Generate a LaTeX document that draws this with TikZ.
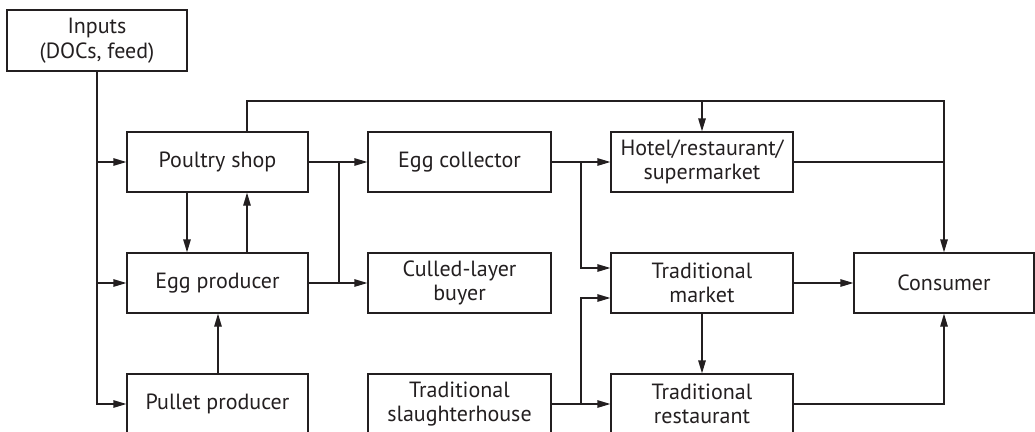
\documentclass[tikz,border=0pt]{standalone}
\usepackage{fontspec}
\setmainfont{PT Sans}
\usetikzlibrary{arrows.meta}
\definecolor{ln}{HTML}{231F20}
\tikzset{
  box/.style={draw=ln, line width=1.3pt, rectangle, minimum width=181pt, minimum height=60pt, align=center, inner sep=0pt, text=ln, font=\fontsize{22}{24.5}\selectfont},
  conn/.style={draw=ln, line width=1.3pt},
  arr/.style={conn, -{Triangle[length=13pt,width=7.5pt]}}
}
\begin{document}
\begin{tikzpicture}[x=1pt,y=-1pt]
\useasboundingbox (0,0) rectangle (1035,431);
\node[box, minimum width=180pt, minimum height=61pt] (in) at (97,40.5) {Inputs\\(DOCs, feed)};
\node[box] (ps) at (217.5,162) {Poultry shop};
\node[box] (ep) at (217.5,283) {Egg producer};
\node[box] (pp) at (217.5,404) {Pullet producer};
\node[box, minimum width=183pt] (ec) at (459.5,162) {Egg collector};
\node[box, minimum width=183pt] (cl) at (459.5,283) {Culled-layer\\buyer};
\node[box, minimum width=183pt] (ts) at (459.5,404) {Traditional\\slaughterhouse};
\node[box, minimum width=182pt] (ho) at (702,162) {Hotel/restaurant/\\supermarket};
\node[box, minimum width=182pt] (tm) at (702,283) {Traditional\\market};
\node[box, minimum width=182pt] (tr) at (702,404) {Traditional\\restaurant};
\node[box, minimum width=180pt] (co) at (944,283) {Consumer};
\coordinate (top) at (944,101);
\coordinate (ja) at (339,0);
\coordinate (jb) at (581,0);
% inputs
\draw[arr] (in.south) |- (pp.west);
\draw[arr] (in.south |- ps.west) -- (ps.west);
\draw[arr] (in.south |- ep.west) -- (ep.west);
% poultry shop top line
\draw[arr] ([xshift=29.5pt]ps.north) |- (top) -- (co.north);
\draw[arr] (ho.north |- top) -- (ho.north);
% poultry shop <-> egg producer
\draw[arr] ([xshift=-30.5pt]ps.south) -- ([xshift=-30.5pt]ep.north);
\draw[arr] ([xshift=29.5pt]ep.north) -- ([xshift=29.5pt]ps.south);
\draw[arr] ([xshift=0.5pt]pp.north) -- ([xshift=0.5pt]ep.south);
% to egg collector / culled layer
\draw[arr] (ps.east) -- (ec.west);
\draw[arr] (ep.east) -- (cl.west);
\draw[conn] (ja |- ps.east) -- (ja |- ep.east);
% egg collector out
\draw[arr] (ec.east) -- (ho.west);
\draw[arr] (jb |- ec.east) |- ([yshift=15pt]tm.west);
% slaughterhouse out
\draw[arr] (ts.east) -- (tr.west);
\draw[arr] (jb |- ts.east) |- ([yshift=-15pt]tm.west);
% market / restaurant / consumer
\draw[arr] (tm.east) -- (co.west);
\draw[conn] (ho.east) -- (co.north |- ho.east);
\draw[arr] (tm.south) -- (tr.north);
\draw[arr] (tr.east) -| (co.south);
\end{tikzpicture}
\end{document}
